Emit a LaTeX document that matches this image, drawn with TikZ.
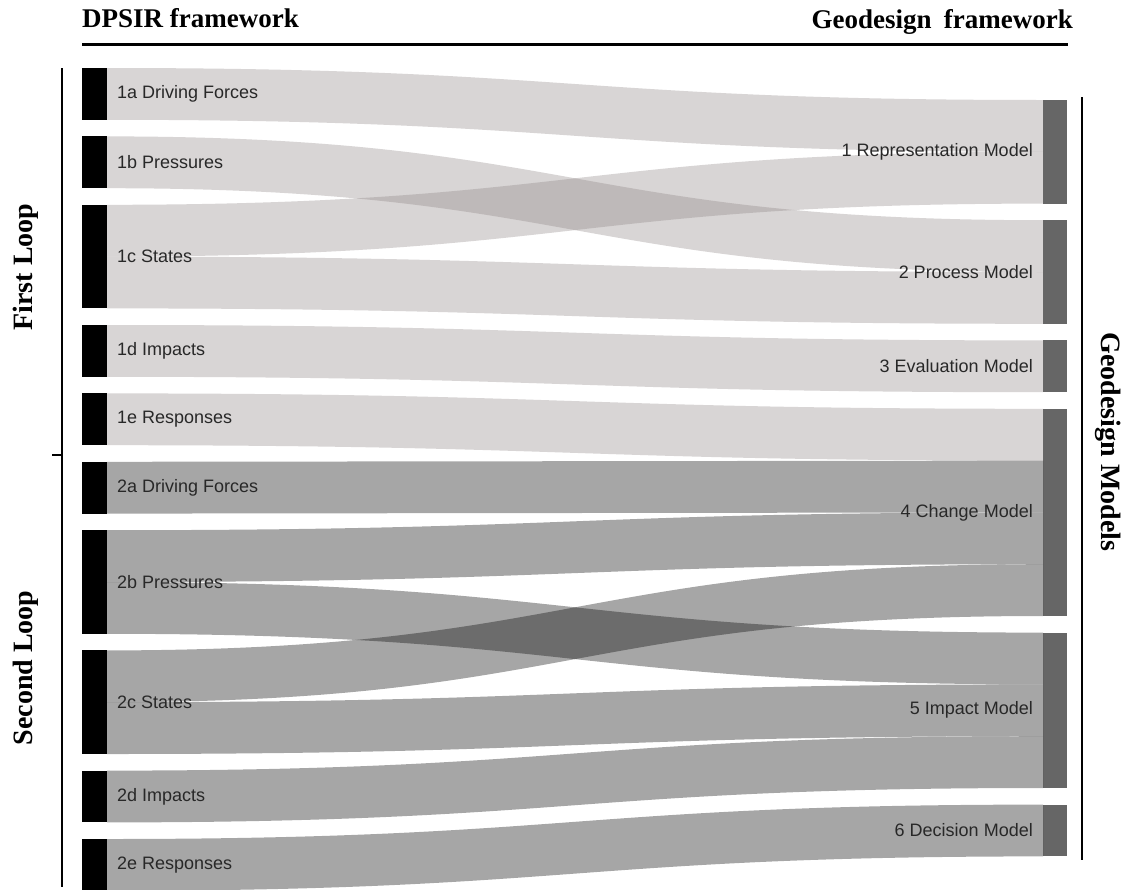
\documentclass[tikz,border=0pt]{standalone}
\usepackage{fontspec}
\setmainfont{Liberation Sans}
\newfontfamily\headfont{Liberation Serif}
\usepackage{tikz}
\usetikzlibrary{positioning, calc}
\definecolor{flowone}{RGB}{144,135,135}
\definecolor{geobar}{RGB}{102,102,102}
\definecolor{labeltext}{RGB}{40,40,40}
\tikzset{
    bar_dpsir/.style={rectangle, fill=black, inner sep=0pt, outer sep=0pt, minimum width=25pt, minimum height=51.8pt},
    bar_geo/.style={rectangle, fill=geobar, inner sep=0pt, outer sep=0pt, minimum width=24pt, minimum height=51.8pt},
    label_box/.style={inner sep=0pt, text=labeltext, font=\fontsize{18pt}{20pt}\selectfont},
    head_text/.style={inner sep=0pt, font=\headfont\bfseries\fontsize{27pt}{30pt}\selectfont},
    side_text/.style={inner sep=0pt, anchor=base, font=\headfont\bfseries\fontsize{28pt}{30pt}\selectfont},
    flow_first/.style={fill=flowone, fill opacity=0.35},
    flow_second/.style={fill=black, fill opacity=0.35},
    rule/.style={line width=2.5pt}
}
% band from a share of a left bar to a share of a right bar
\newcommand{\band}[7]{%
  \path ($(#2.north east)!#3!(#2.south east)$) coordinate (lt)
        ($(#2.north east)!#4!(#2.south east)$) coordinate (lb)
        ($(#5.north west)!#6!(#5.south west)$) coordinate (rt)
        ($(#5.north west)!#7!(#5.south west)$) coordinate (rb)
        ($(lt)!0.5!(rt)$) coordinate (mid);
  \fill[#1] (lt) .. controls (mid |- lt) and (mid |- rt) .. (rt) -- (rb)
        .. controls (mid |- rb) and (mid |- lb) .. (lb) -- cycle;
}

\begin{document}
\begin{tikzpicture}[x=1pt, y=-1pt, node distance=16.6pt]
    \fill[white] (0,0) rectangle (1126,889);
    \useasboundingbox (0,0) rectangle (1126,889);

    % DPSIR side
    \node (d1a) [bar_dpsir, anchor=north west] at (82,68) {};
    \node (d1b) [bar_dpsir, below=of d1a] {};
    \node (d1c) [bar_dpsir, below=of d1b, minimum height=103.6pt] {};
    \node (d1d) [bar_dpsir, below=of d1c] {};
    \node (d1e) [bar_dpsir, below=of d1d] {};
    \node (d2a) [bar_dpsir, below=of d1e] {};
    \node (d2b) [bar_dpsir, below=of d2a, minimum height=103.6pt] {};
    \node (d2c) [bar_dpsir, below=of d2b, minimum height=103.6pt] {};
    \node (d2d) [bar_dpsir, below=of d2c] {};
    \node (d2e) [bar_dpsir, below=of d2d] {};

    % Geodesign side
    \node (rep) [bar_geo, anchor=north west, minimum height=103.6pt] at (1043,100) {};
    \node (proc) [bar_geo, below=of rep, minimum height=103.6pt] {};
    \node (eval) [bar_geo, below=of proc] {};
    \node (chg) [bar_geo, below=of eval, minimum height=207.2pt] {};
    \node (imp) [bar_geo, below=of chg, minimum height=155.4pt] {};
    \node (dec) [bar_geo, below=of imp] {};

    % first loop
    \band{flow_first}{d1a}{0}{1}{rep}{0}{0.5}
    \band{flow_first}{d1b}{0}{1}{proc}{0}{0.5}
    \band{flow_first}{d1c}{0}{0.5}{rep}{0.5}{1}
    \band{flow_first}{d1c}{0.5}{1}{proc}{0.5}{1}
    \band{flow_first}{d1d}{0}{1}{eval}{0}{1}
    \band{flow_first}{d1e}{0}{1}{chg}{0}{0.25}
    % second loop
    \band{flow_second}{d2a}{0}{1}{chg}{0.25}{0.5}
    \band{flow_second}{d2b}{0}{0.5}{chg}{0.5}{0.75}
    \band{flow_second}{d2c}{0}{0.5}{chg}{0.75}{1}
    \band{flow_second}{d2b}{0.5}{1}{imp}{0}{0.3333}
    \band{flow_second}{d2c}{0.5}{1}{imp}{0.3333}{0.6667}
    \band{flow_second}{d2d}{0}{1}{imp}{0.6667}{1}
    \band{flow_second}{d2e}{0}{1}{dec}{0}{1}

    \node[label_box, right=10pt of d1a] {1a Driving Forces};
    \node[label_box, right=10pt of d1b] {1b Pressures};
    \node[label_box, right=10pt of d1c] {1c States};
    \node[label_box, right=10pt of d1d] {1d Impacts};
    \node[label_box, right=10pt of d1e] {1e Responses};
    \node[label_box, right=10pt of d2a] {2a Driving Forces};
    \node[label_box, right=10pt of d2b] {2b Pressures};
    \node[label_box, right=10pt of d2c] {2c States};
    \node[label_box, right=10pt of d2d] {2d Impacts};
    \node[label_box, right=10pt of d2e] {2e Responses};

    \node[label_box, left=10pt of rep] {1 Representation Model};
    \node[label_box, left=10pt of proc] {2 Process Model};
    \node[label_box, left=10pt of eval] {3 Evaluation Model};
    \node[label_box, left=10pt of chg] {4 Change Model};
    \node[label_box, left=10pt of imp] {5 Impact Model};
    \node[label_box, left=10pt of dec] {6 Decision Model};

    % headings and frames
    \node (dpsir) [head_text, anchor=base west] at (82,27) {DPSIR framework};
    \node (geo) [head_text, anchor=base east] at (1073,28) {Geodesign\hspace{0.45em}framework};
    \draw[line width=3pt] (82,44.5) -- (1068,44.5);
    \draw[rule] (62,68) -- (62,887);
    \draw[rule] (52,455) -- (62,455);
    \draw[rule] (1082,97) -- (1082,860);
    \node (first) [side_text, rotate=90] at (32,267) {First Loop};
    \node (second) [side_text, rotate=90] at (32,668) {Second Loop};
    \node (models) [side_text, rotate=-90] at (1101,442) {Geodesign Models};
\end{tikzpicture}
\end{document}
